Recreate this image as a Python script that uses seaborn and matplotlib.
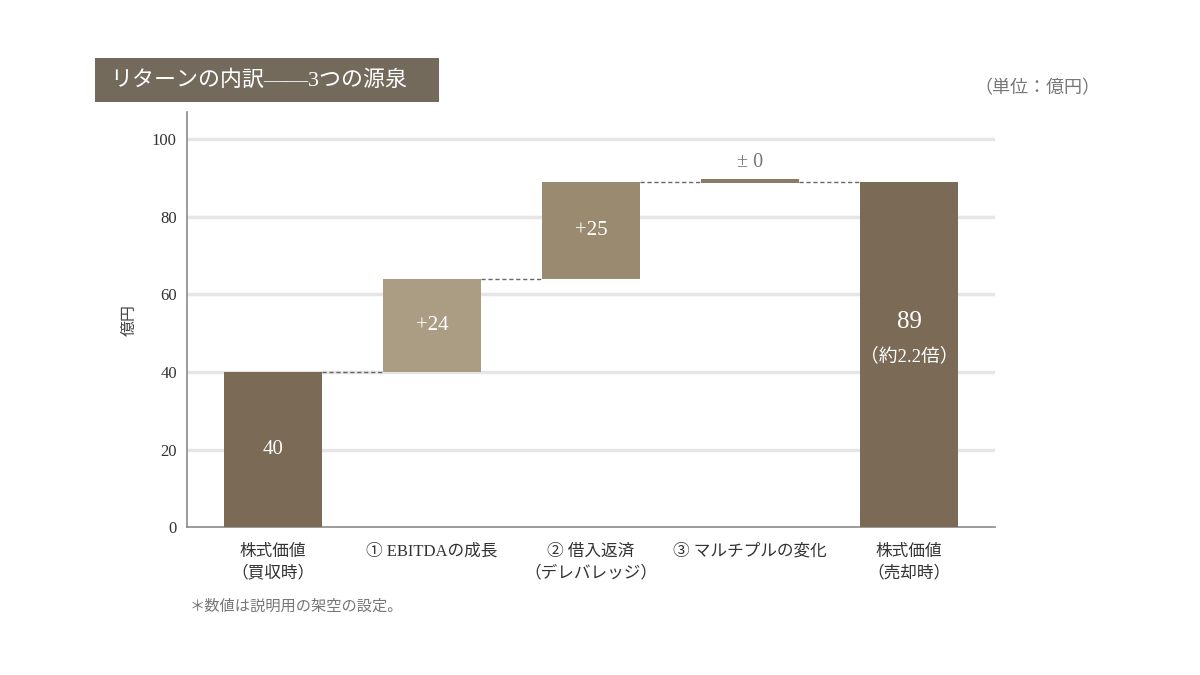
import matplotlib
matplotlib.use("Agg")
import matplotlib.pyplot as plt
import seaborn as sns
import pandas as pd
from matplotlib.patches import Rectangle

# ===== DATA =====
categories = ["株式価値\n（買収時）", "① EBITDAの成長", "② 借入返済\n（デレバレッジ）",
              "③ マルチプルの変化", "株式価値\n（売却時）"]
changes = [40, 24, 25, 0, 89]           # start, +24, +25, ±0, end
kinds = ["total", "delta", "delta", "delta", "total"]
bar_labels = ["40", "+24", "+25", "± 0", "89\n（約2.2倍）"]
bar_colors = ["#7a6a56", "#ab9d84", "#9a8a6f", "#8b7b66", "#7a6a56"]
y_ticks = [0, 20, 40, 60, 80, 100]

# ===== STYLE =====
sns.set_theme(style="white")
FONTS = ["Liberation Serif", "Noto Sans CJK JP", "DejaVu Sans"]
plt.rcParams["font.family"] = FONTS
BAR_W = 0.62
ZERO_THICK = 1.2   # visible thickness of a zero change bar

# waterfall: bottoms and heights
bottoms, heights, levels = [], [], []
level = 0
for v, k in zip(changes, kinds):
    if k == "total":
        bottoms.append(0)
        heights.append(v)
        level = v
    else:
        if v == 0:
            bottoms.append(level - ZERO_THICK / 2 + 0.2)
            heights.append(ZERO_THICK)
        else:
            bottoms.append(level)
            heights.append(v)
        level = level + v
    levels.append(level)

df = pd.DataFrame({"cat": categories, "height": heights})

fig = plt.figure(figsize=(12, 6.75), dpi=100)
ax = fig.add_axes([0.156, 0.219, 0.673, 0.615])

sns.barplot(data=df, x="cat", y="height", color=bar_colors[0],
            width=BAR_W, bottom=bottoms, ax=ax, errorbar=None,
            edgecolor="none", linewidth=0, zorder=3, saturation=1)
for p, c in zip(ax.patches, bar_colors):
    p.set_facecolor(c)

ax.set_xlim(-0.54, 4.54)
ax.set_ylim(0, 107)
ax.set_yticks(y_ticks)
for t in y_ticks[1:]:
    ax.axhline(t, color="#e6e6e6", lw=2.5, zorder=1)

# connectors
for i in range(len(categories) - 1):
    ax.plot([i + BAR_W / 2, i + 1 - BAR_W / 2], [levels[i], levels[i]],
            ls=(0, (3, 2)), color="#666666", lw=1, zorder=4)

# labels in / above bars
for i, (lab, k, v) in enumerate(zip(bar_labels, kinds, changes)):
    if k == "delta" and v == 0:
        ax.text(i, levels[i] + 2.6, lab, ha="center", va="bottom",
                fontsize=14.5, color="#777777", family=FONTS)
    elif i == len(categories) - 1:
        top, sub = lab.split("\n")
        ax.text(i, 53, top, ha="center", va="center", fontsize=18,
                color="white", family=FONTS)
        ax.text(i, 44, sub, ha="center", va="center", fontsize=13.5,
                color="white", family=FONTS)
    else:
        ax.text(i, bottoms[i] + heights[i] / 2, lab, ha="center", va="center",
                fontsize=15, color="white", family=FONTS)

# axes styling
for s in ["top", "right"]:
    ax.spines[s].set_visible(False)
for s in ["left", "bottom"]:
    ax.spines[s].set_color("#8a8a8a")
    ax.spines[s].set_linewidth(1.2)
ax.tick_params(axis="both", length=4, color="#8a8a8a", labelsize=12,
               labelcolor="#333333", direction="out", width=1)
ax.tick_params(axis="x", pad=8)
ax.set_xlabel("")
ax.set_ylabel("億円", fontsize=11.5, color="#444444", labelpad=10)
for lab in ax.get_xticklabels():
    lab.set_linespacing(1.5)

# title box
fig.patches.append(Rectangle((0.079, 0.849), 0.287, 0.065, transform=fig.transFigure,
                             facecolor="#736a5c", edgecolor="none"))
fig.text(0.092, 0.881, "リターンの内訳——3つの源泉", color="white", fontsize=15.8,
         va="center", ha="left", family=FONTS)

fig.text(0.917, 0.869, "（単位：億円）", color="#777777", fontsize=13,
         va="center", ha="right", family=FONTS)
fig.text(0.158, 0.101, "＊数値は説明用の架空の設定。", color="#777777", fontsize=11,
         va="center", ha="left", family=FONTS)

fig.savefig("out.png", dpi=100, facecolor="white")
